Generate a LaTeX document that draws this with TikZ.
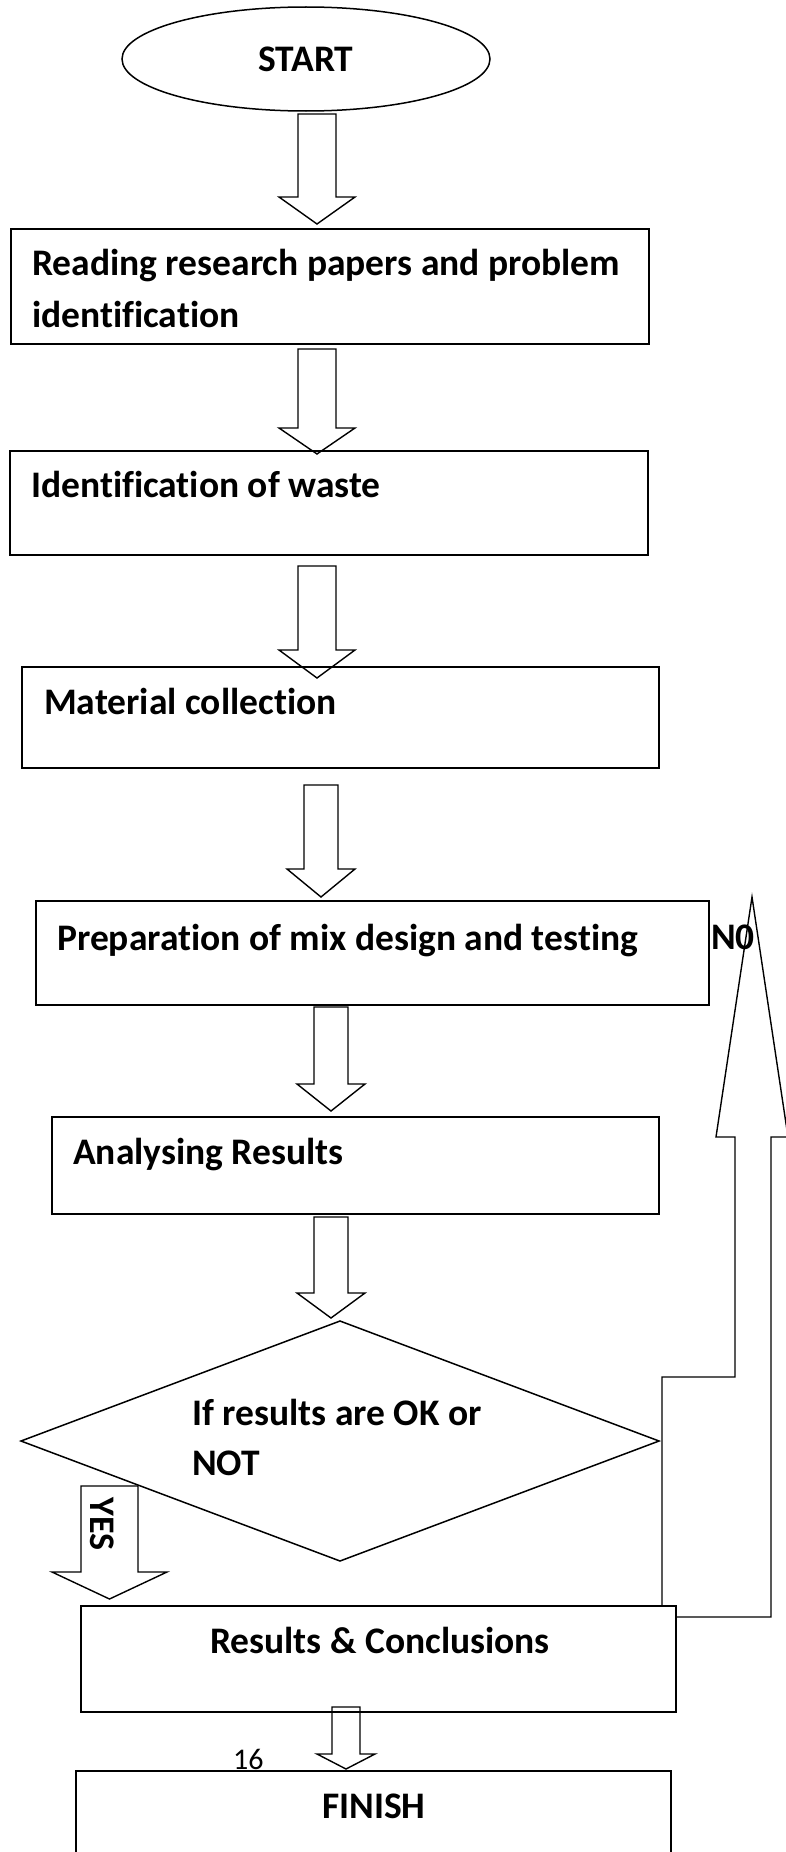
\documentclass[tikz,border=0pt]{standalone}
\usepackage{fontspec}
\setmainfont{Carlito}[Ligatures={NoCommon}]
\usetikzlibrary{shapes.geometric}

% block arrow pointing down: name, centre x, shaft half-width, head half-width, top y, head y, tip y
\newcommand{\blockdown}[7]{%
  \draw[blk] (#2-#3,#5) -- (#2+#3,#5) -- (#2+#3,#6) -- (#2+#4,#6) -- (#2,#7)
    coordinate (#1) -- (#2-#4,#6) -- (#2-#3,#6) -- cycle;}

\begin{document}
\begin{tikzpicture}[x=1pt,y=-1pt,line join=miter,
  outline/.style={draw=black,line width=1.5pt,inner sep=0pt},
  boxnode/.style={outline,rectangle,anchor=north west},
  blk/.style={draw=black,line width=1.4pt},
  lbl/.style={anchor=base west,inner sep=0pt,font=\fontsize{37.5}{45}\selectfont\bfseries},
  pagenum/.style={anchor=base west,inner sep=0pt,font=\fontsize{30}{34}\selectfont},
]
\useasboundingbox (0,0) rectangle (786,1852);
\clip (0,0) rectangle (786,1852);

% terminal
\node[outline,ellipse,minimum width=368pt,minimum height=104pt,
      font=\fontsize{37.5}{45}\selectfont\bfseries] (start) at (306,59) {START};

% process boxes
\node[boxnode,minimum width=638pt,minimum height=115pt] (read)   at (10,228) {};
\node[boxnode,minimum width=638pt,minimum height=104pt] (waste)  at (9,450) {};
\node[boxnode,minimum width=637pt,minimum height=101pt] (coll)   at (21,666) {};
\node[boxnode,minimum width=673pt,minimum height=104pt] (mix)    at (35,900) {};
\node[boxnode,minimum width=607pt,minimum height=97pt]  (anal)   at (51,1116) {};
\node[boxnode,minimum width=595pt,minimum height=106pt] (concl)  at (80,1605) {};
\node[boxnode,minimum width=595pt,minimum height=120pt] (finish) at (75,1770) {};

% decision
\coordinate (dT) at (340,1321);
\coordinate (dR) at (659,1441);
\coordinate (dB) at (340,1561);
\coordinate (dL) at (21,1441);
\draw[outline] (dT) -- (dR) -- (dB) -- (dL) -- cycle;

% texts
\node[lbl] (tread1) at (32,275) {Reading research papers and problem};
\node[lbl] (tread2) at (32,327) {identification};
\node[lbl] (twaste) at (31,497) {Identification of waste};
\node[lbl] (tcoll)  at (44,714) {Material collection};
\node[lbl] (tmix)   at (57,950) {Preparation of mix design and testing};
\node[lbl] (tno)    at (711,949) {N0};
\node[lbl] (tanal)  at (73,1164) {Analysing Results};
\node[lbl] (tdec1)  at (192,1425) {If results are OK or};
\node[lbl] (tdec2)  at (192,1475) {NOT};
\node[lbl] (tconcl) at (210,1653) {Results \& Conclusions};
\node[pagenum] (tpage) at (233,1769) {16};
\node[lbl] (tfin)   at (322,1818) {FINISH};

% downward block arrows
\blockdown{a1}{317}{19}{38}{114}{197}{224}
\blockdown{a2}{317}{19}{38}{349}{428}{454}
\blockdown{a3}{317}{19}{38}{566}{650}{678}
\blockdown{a4}{321}{17}{34}{785}{869}{897}
\blockdown{a5}{331}{17}{34}{1007}{1084}{1111}
\blockdown{a6}{331}{17}{34}{1217}{1293}{1318}
\blockdown{ayes}{109.5}{28.5}{57.5}{1486}{1572}{1599}
\blockdown{a7}{346}{14}{29}{1707}{1754}{1769}

\node[anchor=center,inner sep=0pt,rotate=-90,
      font=\fontsize{36}{42}\selectfont\bfseries] (tyes) at (102,1524) {YES};

% return block arrow (NO branch)
\draw[blk] (662,1605) -- (662,1377) -- (735,1377) -- (735,1137) -- (716,1137)
  -- (752,897) coordinate (ano) -- (788,1137) -- (771,1137) -- (771,1617) -- (concl.east |- 0,1617);
\end{tikzpicture}
\end{document}
